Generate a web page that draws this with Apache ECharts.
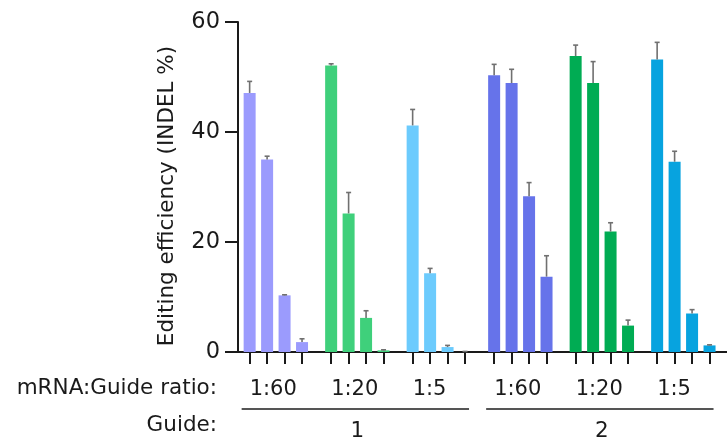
<!DOCTYPE html>
<html>
<head>
<meta charset="utf-8">
<script src="https://cdn.jsdelivr.net/npm/echarts@6/dist/echarts.min.js"></script>
<style>
html,body{margin:0;padding:0;background:#fff;}
#c{width:727px;height:438px;}
</style>
</head>
<body>
<div id="c"></div>
<script>
// ---- data ----
const ratioLabels = ['1:60', '1:20', '1:5', '1:60', '1:20', '1:5'];
const guideLabels = ['1', '2'];
const groupGuide = [0, 0, 0, 1, 1, 1];
const yTicks = [0, 20, 40, 60];

const g1_r60 = [47.1, 35.0, 10.3, 1.8];
const g1_r20 = [52.1, 25.2, 6.2, 0.3];
const g1_r5  = [41.2, 14.3, 0.9, 0.0];
const g2_r60 = [50.3, 48.9, 28.3, 13.7];
const g2_r20 = [53.8, 48.9, 21.9, 4.8];
const g2_r5  = [53.2, 34.6, 7.0, 1.2];

const e1_r60 = [2.1, 0.6, 0.1, 0.6];
const e1_r20 = [0.3, 3.8, 1.3, 0.1];
const e1_r5  = [2.9, 0.9, 0.3, 0.1];
const e2_r60 = [2.0, 2.5, 2.5, 3.8];
const e2_r20 = [2.0, 3.9, 1.6, 1.0];
const e2_r5  = [3.1, 1.9, 0.7, 0.1];

const groupValues = [g1_r60, g1_r20, g1_r5, g2_r60, g2_r20, g2_r5];
const groupErrors = [e1_r60, e1_r20, e1_r5, e2_r60, e2_r20, e2_r5];
const groupColors = ['#9b9bfd', '#3fd07b', '#6ccbfd', '#6673ea', '#00ac53', '#07a3df'];

// ---- layout on a fine category grid (3px units) ----
const UNITS_PER_GROUP = 28;
const FIRST_OFFSET = 4;
const BAR_STEP = 6;
const nCats = groupValues.length * UNITS_PER_GROUP + 1;
const cats = [];
for (let i = 0; i < nCats; i++) cats.push(String(i));

const barData = new Array(nCats).fill(null);
const errData = [];
const barIdx = {};
const firstBarIdx = {};
groupValues.forEach((vals, g) => {
  vals.forEach((v, b) => {
    const idx = g * UNITS_PER_GROUP + FIRST_OFFSET + b * BAR_STEP;
    barIdx[idx] = true;
    if (b === 0) firstBarIdx[idx] = g;
    barData[idx] = { value: v, itemStyle: { color: groupColors[g] } };
    errData.push([idx, v, groupErrors[g][b]]);
  });
});

const FONT = '"DejaVu Sans"';
const TXT = '#1a1a1a';
const chart = echarts.init(document.getElementById('c'), null, { renderer: 'canvas' });

const option = {
  animation: false,
  backgroundColor: '#fff',
  grid: { left: 238, right: -15, top: 22, bottom: 86, containLabel: false },
  xAxis: {
    type: 'category',
    data: cats,
    boundaryGap: false,
    axisLine: { show: true, lineStyle: { color: TXT, width: 2 } },
    axisTick: {
      show: true, length: 12, inside: false,
      interval: (i) => !!barIdx[i],
      lineStyle: { color: TXT, width: 2 }
    },
    axisLabel: {
      show: true,
      interval: (i) => firstBarIdx[i] !== undefined,
      formatter: (val, i) => (firstBarIdx[i] !== undefined ? ratioLabels[firstBarIdx[i]] : ''),
      align: 'left',
      margin: 27,
      fontFamily: FONT, fontSize: 21, color: TXT
    },
    splitLine: { show: false }
  },
  yAxis: {
    type: 'value',
    min: yTicks[0], max: yTicks[yTicks.length - 1], interval: 20,
    name: 'Editing efficiency (INDEL %)',
    nameLocation: 'middle',
    nameGap: 60,
    nameTextStyle: { fontFamily: FONT, fontSize: 21.5, color: TXT, padding: [0, 18, 0, 0] },
    axisLine: { show: true, lineStyle: { color: TXT, width: 2 } },
    axisTick: { show: true, length: 13, lineStyle: { color: TXT, width: 2 } },
    axisLabel: { margin: 18, fontFamily: FONT, fontSize: 22.5, color: TXT },
    splitLine: { show: false }
  },
  series: [
    {
      type: 'bar',
      data: barData,
      barWidth: 12,
      silent: true
    },
    {
      type: 'custom',
      data: errData,
      encode: { x: 0, y: 1 },
      silent: true,
      z: 3,
      renderItem: (params, api) => {
        const x = api.value(0), v = api.value(1), e = api.value(2);
        const base = api.coord([x, v]);
        const top = api.coord([x, v + e]);
        const style = { stroke: '#707070', lineWidth: 1.6 };
        return {
          type: 'group',
          children: [
            { type: 'line', shape: { x1: base[0], y1: base[1], x2: top[0], y2: top[1] }, style },
            { type: 'line', shape: { x1: top[0] - 2.5, y1: top[1], x2: top[0] + 2.5, y2: top[1] }, style }
          ]
        };
      }
    }
  ]
};
chart.setOption(option);

// ---- guide brackets, positioned via the axis scale ----
const graphics = [];
graphics.push({ type: 'text', x: 217, y: 388, style: { text: 'mRNA:Guide ratio:', font: '21.5px ' + FONT, fill: TXT, textAlign: 'right', textVerticalAlign: 'middle' } });
graphics.push({ type: 'text', x: 217, y: 425, style: { text: 'Guide:', font: '21.5px ' + FONT, fill: TXT, textAlign: 'right', textVerticalAlign: 'middle' } });
guideLabels.forEach((lab, k) => {
  const gs = [];
  groupGuide.forEach((gg, g) => { if (gg === k) gs.push(g); });
  const firstIdx = gs[0] * UNITS_PER_GROUP + FIRST_OFFSET;
  const lastIdx = gs[gs.length - 1] * UNITS_PER_GROUP + FIRST_OFFSET + 3 * BAR_STEP;
  const x1 = chart.convertToPixel({ xAxisIndex: 0 }, firstIdx);
  const x2 = chart.convertToPixel({ xAxisIndex: 0 }, lastIdx);
  graphics.push({ type: 'line', shape: { x1: x1 - 8, y1: 409, x2: x2 + 4, y2: 409 }, style: { stroke: '#555', lineWidth: 1.8 } });
  graphics.push({ type: 'text', x: (x1 + x2) / 2, y: 431, style: { text: lab, font: '21.5px ' + FONT, fill: TXT, textAlign: 'center', textVerticalAlign: 'middle' } });
});
chart.setOption({ graphic: graphics });
</script>
</body>
</html>
